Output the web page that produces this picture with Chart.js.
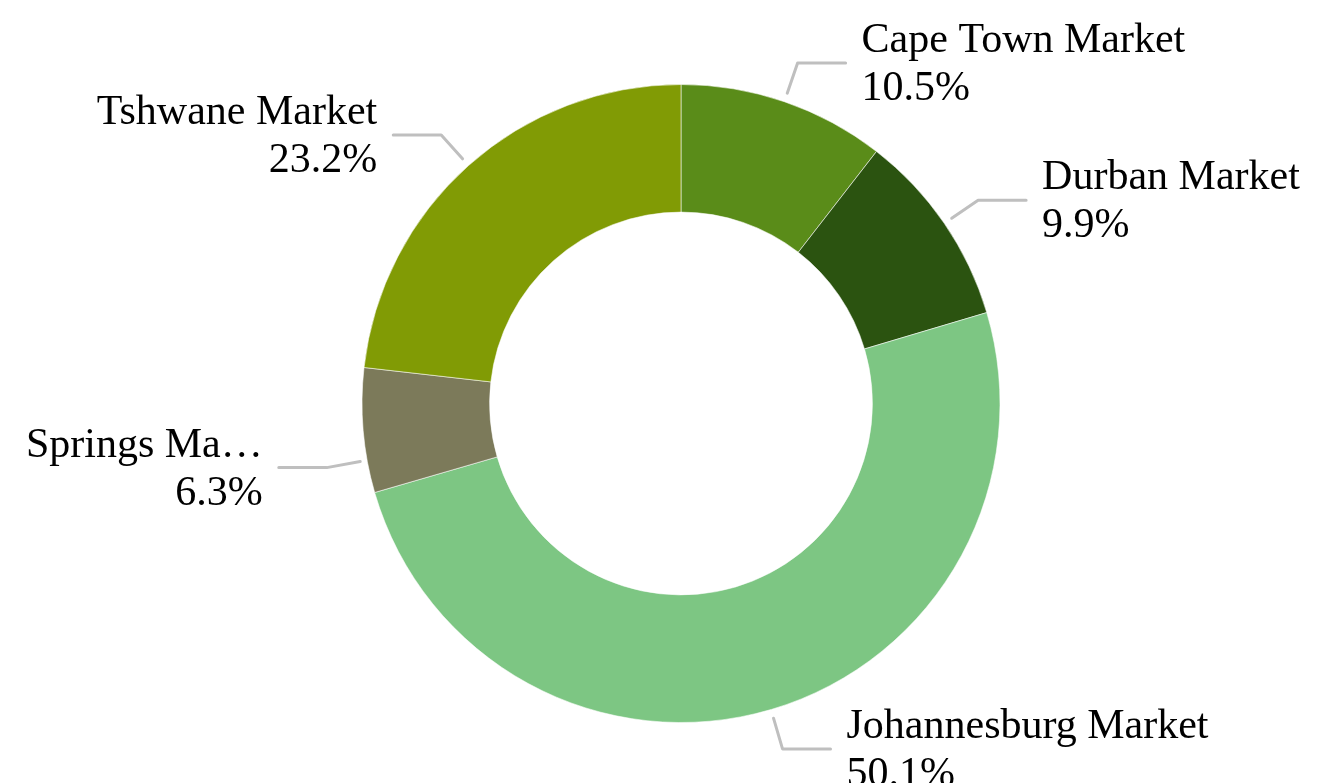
<!DOCTYPE html>
<html>
<head>
<meta charset="utf-8">
<script src="https://cdn.jsdelivr.net/npm/chart.js"></script>
<style>
    html, body { margin: 0; padding: 0; background: #ffffff; }
    #wrap { width: 1326px; height: 783px; position: relative; }
</style>
</head>
<body>
<div id="wrap"><canvas id="donutChart"></canvas></div>
<script>
// Market share by market (percent), clockwise from 12 o'clock
const categories = ['Cape Town Market', 'Durban Market', 'Johannesburg Market', 'Springs Ma\u2026', 'Tshwane Market'];
const shares = [10.5, 9.9, 50.1, 6.3, 23.2];
const sliceColors = ['#5a8c19', '#2b5310', '#7dc683', '#7c7a5a', '#819b05'];

// label placement tweaks (degrees), Springs label was nudged in the original
const leaderAngleShift = [0, 0, 0, -5.4, 0];

const labelFont = '42px "Liberation Serif", "Times New Roman", serif';

// Draw Excel-like callout labels with elbow leader lines
const calloutPlugin = {
    id: 'callouts',
    afterDatasetsDraw(chart) {
        const ctx = chart.ctx;
        const meta = chart.getDatasetMeta(0);
        ctx.save();
        meta.data.forEach((arc, i) => {
            const p = arc.getProps(['x', 'y', 'startAngle', 'endAngle', 'outerRadius'], true);
            const a = (p.startAngle + p.endAngle) / 2 + leaderAngleShift[i] * Math.PI / 180;
            const cos = Math.cos(a), sin = Math.sin(a);
            const r0 = p.outerRadius + (leaderAngleShift[i] ? 7 : 9);
            const r1 = p.outerRadius + 41;
            const x0 = p.x + r0 * cos, y0 = p.y + r0 * sin;
            const x1 = p.x + r1 * cos, y1 = p.y + r1 * sin;
            const dir = cos >= 0 ? 1 : -1;
            const x2 = x1 + dir * 48;

            ctx.strokeStyle = '#bfbfbf';
            ctx.lineWidth = 3;
            ctx.lineCap = 'round';
            ctx.lineJoin = 'round';
            ctx.beginPath();
            ctx.moveTo(x0, y0);
            ctx.lineTo(x1, y1);
            ctx.lineTo(x2, y1);
            ctx.stroke();

            ctx.fillStyle = '#000000';
            ctx.font = labelFont;
            ctx.textBaseline = 'alphabetic';
            ctx.textAlign = dir > 0 ? 'left' : 'right';
            const tx = x2 + dir * 16;
            ctx.fillText(categories[i], tx, y1 - 11);
            ctx.fillText(shares[i].toFixed(1) + '%', tx, y1 + 37);
        });
        ctx.restore();
    }
};

new Chart(document.getElementById('donutChart'), {
    type: 'doughnut',
    data: {
        labels: categories,
        datasets: [{
            data: shares,
            backgroundColor: sliceColors,
            borderColor: 'rgba(255,255,255,0.55)',
            borderWidth: 1
        }]
    },
    options: {
        responsive: true,
        maintainAspectRatio: false,
        animation: false,
        cutout: '60%',
        layout: {
            padding: { top: 84, bottom: 60, left: 361, right: 325 }
        },
        plugins: {
            legend: { display: false },
            tooltip: { enabled: false }
        }
    },
    plugins: [calloutPlugin]
});
</script>
</body>
</html>
